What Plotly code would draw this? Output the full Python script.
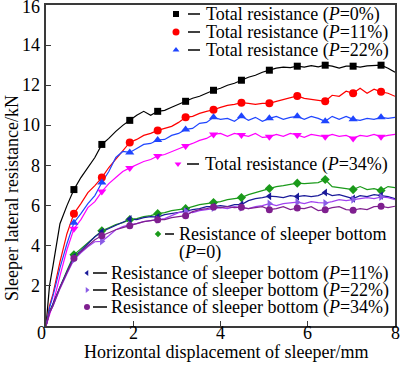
import plotly.graph_objects as go

# ---------------- data ----------------
X_MM = [0, 0.04, 0.08, 0.16, 0.32, 0.48, 0.64, 0.80, 0.96, 1.12, 1.28, 1.44, 1.60, 1.76, 1.92,
        2.08, 2.24, 2.40, 2.56, 2.72, 2.88, 3.04, 3.20, 3.36, 3.52, 3.68, 3.84, 4.00, 4.16,
        4.32, 4.48, 4.64, 4.80, 4.96, 5.12, 5.28, 5.44, 5.60, 5.76, 5.92, 6.08, 6.24, 6.40,
        6.56, 6.72, 6.88, 7.04, 7.20, 7.36, 7.52, 7.68, 7.84, 8.00]

TOTAL_P0 = [0, 1.2, 2.0, 3.0, 5.1, 6.0, 6.8, 7.4, 7.9, 8.4, 9.05, 9.35, 9.7, 10.0, 10.25,
            10.5, 10.7, 10.5, 10.7, 10.75, 10.9, 11.05, 11.2, 11.35, 11.45, 11.6, 11.75, 11.85, 12.0,
            12.1, 12.25, 12.4, 12.5, 12.65, 12.75, 12.85, 12.9, 12.88, 12.95, 12.9, 12.98, 12.92, 13.0,
            12.95, 12.85, 12.95, 12.95, 12.9, 12.97, 13.0, 13.0, 12.85, 12.65]
TOTAL_P11 = [0, 0.6, 1.0, 1.6, 3.2, 4.6, 5.6, 6.1, 6.65, 7.0, 7.4, 7.9, 8.3, 8.7, 9.15,
             9.3, 9.5, 9.6, 9.75, 9.85, 9.95, 10.15, 10.4, 10.45, 10.6, 10.7, 10.78, 10.9, 11.0,
             11.05, 11.13, 11.1, 11.05, 11.1, 11.1, 11.2, 11.3, 11.4, 11.47, 11.35, 11.3, 11.25, 11.2,
             11.5, 11.45, 11.7, 11.6, 11.85, 11.6, 11.8, 11.67, 11.6, 11.45]
TOTAL_P22 = [0, 0.5, 0.9, 1.5, 2.9, 4.1, 5.15, 5.6, 6.1, 6.5, 7.15, 7.7, 8.4, 8.7, 8.65,
             8.85, 9.05, 9.1, 9.27, 9.3, 9.5, 9.6, 9.8, 9.85, 10.1, 10.15, 10.4, 10.3, 10.35,
             10.2, 10.45, 10.25, 10.4, 10.2, 10.35, 10.45, 10.3, 10.4, 10.45, 10.3, 10.45, 10.35, 10.2,
             10.45, 10.3, 10.45, 10.3, 10.25, 10.35, 10.3, 10.4, 10.35, 10.4]
TOTAL_P34 = [0, 0.3, 0.6, 1.1, 2.5, 3.8, 4.85, 5.3, 5.9, 6.2, 6.7, 7.1, 7.4, 7.7, 7.88,
             8.05, 8.2, 8.3, 8.47, 8.55, 8.7, 8.85, 8.97, 9.1, 9.25, 9.35, 9.55, 9.6, 9.45,
             9.6, 9.52, 9.45, 9.6, 9.4, 9.43, 9.55, 9.45, 9.6, 9.52, 9.4, 9.55, 9.5, 9.43,
             9.55, 9.45, 9.5, 9.35, 9.5, 9.45, 9.55, 9.43, 9.5, 9.55]
BOTTOM_P0 = [0, 0.4, 0.7, 1.1, 1.95, 2.75, 3.55, 3.85, 4.15, 4.45, 4.75, 4.9, 5.05, 5.15, 5.3,
             5.35, 5.45, 5.5, 5.6, 5.65, 5.75, 5.8, 5.85, 5.95, 6.05, 6.1, 6.15, 6.2, 6.3,
             6.35, 6.4, 6.55, 6.65, 6.75, 6.85, 6.95, 7.0, 7.05, 7.12, 7.1, 7.12, 7.15, 7.3,
             6.95, 6.9, 6.85, 6.8, 6.95, 6.8, 6.85, 6.75, 6.95, 6.9]
BOTTOM_P11 = [0, 0.4, 0.7, 1.1, 1.95, 2.7, 3.45, 3.75, 4.1, 4.45, 4.7, 4.85, 5.0, 5.15, 5.33,
              5.3, 5.4, 5.45, 5.43, 5.55, 5.6, 5.65, 5.72, 5.8, 5.85, 5.95, 5.95, 6.0, 5.95,
              6.05, 6.05, 6.25, 6.35, 6.4, 6.47, 6.45, 6.4, 6.5, 6.45, 6.5, 6.45, 6.5, 6.65,
              6.5, 6.55, 6.45, 6.35, 6.5, 6.45, 6.55, 6.5, 6.45, 6.35]
BOTTOM_P22 = [0, 0.35, 0.65, 1.0, 1.85, 2.6, 3.3, 3.65, 3.95, 4.2, 4.22, 4.5, 4.8, 4.95, 5.05,
              5.1, 5.2, 5.25, 5.3, 5.35, 5.5, 5.65, 5.72, 5.65, 5.75, 5.8, 5.88, 5.9, 5.85,
              5.95, 5.9, 5.85, 5.95, 6.0, 6.1, 6.0, 6.1, 6.15, 6.17, 6.1, 6.2, 6.15, 6.13,
              6.2, 6.3, 6.25, 6.3, 6.35, 6.4, 6.35, 6.43, 6.4, 6.3]
BOTTOM_P34 = [0, 0.35, 0.65, 1.0, 1.9, 2.65, 3.38, 3.7, 4.0, 4.3, 4.5, 4.65, 4.8, 4.9, 5.0,
              5.1, 5.2, 5.25, 5.3, 5.3, 5.4, 5.45, 5.5, 5.7, 5.8, 5.85, 5.93, 5.9, 5.95,
              5.9, 5.92, 5.85, 5.9, 5.95, 5.8, 5.85, 5.95, 5.8, 5.88, 5.85, 5.95, 5.75, 5.8,
              5.9, 5.95, 5.8, 5.77, 5.85, 5.8, 5.95, 5.97, 5.9, 5.97]

X_TICKS = [2, 4, 6, 8]
Y_TICKS = [2, 4, 6, 8, 10, 12, 14, 16]

LEGEND_TOTAL = ["Total resistance (<i>P</i>=0%)", "Total resistance (<i>P</i>=11%)",
                "Total resistance (<i>P</i>=22%)", "Total resistance (<i>P</i>=34%)"]
LEGEND_BOTTOM = ["Resistance of sleeper bottom",
                 "Resistance of sleeper bottom (<i>P</i>=11%)",
                 "Resistance of sleeper bottom (<i>P</i>=22%)",
                 "Resistance of sleeper bottom (<i>P</i>=34%)"]
LEGEND_BOTTOM_P0_LINE2 = "(<i>P</i>=0)"

# ---------------- styling ----------------
FONT = "Liberation Serif, Times New Roman, serif"
FS = 18
W, H = 400, 369
ML, MR, MT, MB = 46, 5, 5, 43
PW, PH = W - ML - MR, H - MT - MB


def px(xp):
    return (xp - ML) / PW


def py(yp):
    return (H - MB - yp) / PH


series = [
    (TOTAL_P0, "#000000", "#000000", "square", 7, 6),
    (TOTAL_P11, "#ff0000", "#ff0000", "circle", 8, 7),
    (TOTAL_P22, "#1f45ff", "#1f45ff", "triangle-up", 8, 6),
    (TOTAL_P34, "#ff00ff", "#ff00ff", "triangle-down", 8, 6),
    (BOTTOM_P0, "#1a9a1a", "#1a9a1a", "diamond", 7, 5),
    (BOTTOM_P11, "#1a1a99", "#1a1a99", "triangle-left", 7, 5),
    (BOTTOM_P22, "#a040f0", "#8a5ce6", "triangle-right", 7, 5),
    (BOTTOM_P34, "#7f1f8f", "#7f1f8f", "circle", 7, 6),
]

for s in series:
    assert len(s[0]) == len(X_MM)

mark_idx = [i for i, x in enumerate(X_MM) if x > 0 and abs(x / 0.64 - round(x / 0.64)) < 1e-6]

fig = go.Figure()
for ys, lc, mc, sym, ms, _ in series:
    fig.add_trace(go.Scatter(x=X_MM, y=ys, mode="lines", line=dict(color=lc, width=1.2),
                             hoverinfo="skip", showlegend=False))
for ys, lc, mc, sym, ms, _ in series:
    fig.add_trace(go.Scatter(x=[X_MM[i] for i in mark_idx], y=[ys[i] for i in mark_idx],
                             mode="markers", marker=dict(symbol=sym, size=ms, color=mc, line=dict(width=0)),
                             hoverinfo="skip", showlegend=False))

# ---------------- custom legends ----------------
# (marker x, dash x0, dash x1, text x, y) in pixels
leg_pos = [
    (176, 188, 200, 204, 14),
    (176, 188, 200, 204, 32),
    (176, 188, 200, 204, 50),
    (178, 187, 199, 203, 164),
    (158, 165, 174, 177, 234),
    (87, 93, 107, 109, 273),
    (87, 93, 107, 109, 290),
    (87, 93, 107, 109, 307),
]
labels = LEGEND_TOTAL + LEGEND_BOTTOM
shapes = []
annotations = []
tfont = dict(family=FONT, size=FS, color="black")
for (mx, d0, d1, tx, ty), (ys, lc, mc, sym, ms, lms), lab in zip(leg_pos, series, labels):
    fig.add_trace(go.Scatter(x=[px(mx)], y=[py(ty)], xaxis="x2", yaxis="y2", mode="markers",
                             marker=dict(symbol=sym, size=lms, color=mc, line=dict(width=0)),
                             hoverinfo="skip", showlegend=False))
    shapes.append(dict(type="line", xref="paper", yref="paper", x0=px(d0), x1=px(d1),
                       y0=py(ty), y1=py(ty), line=dict(color="black", width=1.5)))
    annotations.append(dict(x=px(tx), y=py(ty), xref="paper", yref="paper", text=lab,
                            showarrow=False, xanchor="left", yanchor="middle", font=tfont))
annotations.append(dict(x=px(177), y=py(252), xref="paper", yref="paper", text=LEGEND_BOTTOM_P0_LINE2,
                        showarrow=False, xanchor="left", yanchor="middle", font=tfont))

# tick labels (positioned through the axes' own scales)
for v in X_TICKS:
    annotations.append(dict(x=v, y=py(333), xref="x", yref="paper", text=str(v), showarrow=False,
                            xanchor="center", yanchor="middle", font=tfont))
for v in Y_TICKS:
    annotations.append(dict(x=px(42), y=v, xref="paper", yref="y", text=str(v), showarrow=False,
                            xanchor="right", yanchor="middle", font=tfont,
                            yshift=-2 if v == Y_TICKS[-1] else 0))
annotations.append(dict(x=px(41), y=py(333), xref="paper", yref="paper", text="0", showarrow=False,
                        xanchor="center", yanchor="middle", font=tfont))
annotations.append(dict(x=px(226), y=py(352), xref="paper", yref="paper",
                        text="Horizontal displacement of sleeper/mm", showarrow=False,
                        xanchor="center", yanchor="middle", font=tfont))
annotations.append(dict(x=px(12), y=py(198), xref="paper", yref="paper", textangle=-90,
                        text="Sleeper lateral resistance/kN", showarrow=False,
                        xanchor="center", yanchor="middle", font=tfont))

axis_common = dict(showgrid=False, zeroline=False, showline=True, linecolor="#3a3a3a", linewidth=1.5,
                   mirror=True, ticks="inside", ticklen=5, tickwidth=1.2, tickcolor="#3a3a3a",
                   showticklabels=False, automargin=False)

fig.update_layout(
    width=W, height=H, margin=dict(l=ML, r=MR, t=MT, b=MB, autoexpand=False),
    paper_bgcolor="white", plot_bgcolor="white",
    xaxis=dict(range=[0, 8], tickvals=X_TICKS, **axis_common),
    yaxis=dict(range=[0, 16], tickvals=Y_TICKS, **axis_common),
    xaxis2=dict(range=[0, 1], overlaying="x", visible=False, fixedrange=True),
    yaxis2=dict(range=[0, 1], overlaying="y", visible=False, fixedrange=True),
    shapes=shapes, annotations=annotations, showlegend=False,
)

fig.write_html("out.html", config={"displayModeBar": False},
               post_script="document.body.style.margin='0';document.body.style.padding='0';"
                           "document.documentElement.style.overflow='hidden';")
